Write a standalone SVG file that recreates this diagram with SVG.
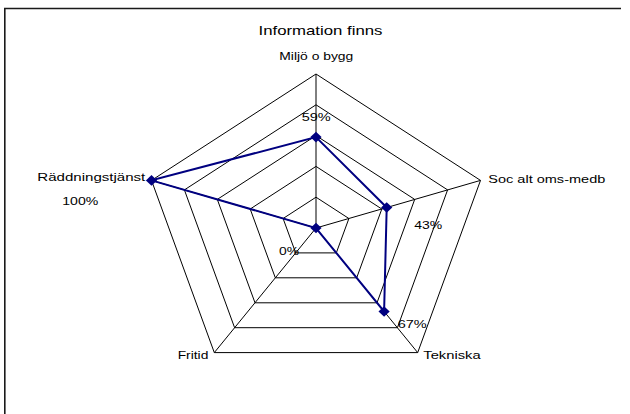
<svg xmlns="http://www.w3.org/2000/svg" width="630" height="414" viewBox="0 0 630 414">
<style>
.grid{fill:none;stroke:#000;stroke-width:1}
.axis{stroke:#000;stroke-width:1}
.series{fill:none;stroke:#000080;stroke-width:2;stroke-linejoin:miter}
.mk{fill:#000080}
.lbl{font-family:"Liberation Sans",Arial,sans-serif;font-size:11px;fill:#000}
.ttl{font-family:"Liberation Sans",Arial,sans-serif;font-size:13px;fill:#000}
.frame{fill:none;stroke:#1a1a1a;stroke-width:1.6}
</style>
<defs>
<path id="dm" d="M0,-5.3 L5.6,0 L0,5.3 L-5.6,0 Z"/>
</defs>
<rect width="630" height="414" fill="#fff"/>
<path class="frame" d="M4.8,414 V8.5 H621"/>
<g id="grid">
<polygon class="grid" points="316,74 480.5,180.4 417.7,352.6 214.3,352.6 151.5,180.4"/>
<polygon class="grid" points="316,104.8 447.6,189.9 397.4,327.7 234.6,327.7 184.4,189.9"/>
<polygon class="grid" points="316,135.6 414.7,199.4 377,302.8 255,302.8 217.3,199.4"/>
<polygon class="grid" points="316,166.4 381.8,209 356.7,277.8 275.3,277.8 250.2,209"/>
<polygon class="grid" points="316,197.2 348.9,218.5 336.3,252.9 295.7,252.9 283.1,218.5"/>
<line class="axis" x1="316" y1="228" x2="316" y2="74"/>
<line class="axis" x1="316" y1="228" x2="480.5" y2="180.4"/>
<line class="axis" x1="316" y1="228" x2="417.7" y2="352.6"/>
<line class="axis" x1="316" y1="228" x2="214.3" y2="352.6"/>
<line class="axis" x1="316" y1="228" x2="151.5" y2="180.4"/>
</g>
<g id="connectors">
<polygon class="series" points="316,137.1 386.7,207.5 384.1,311.5 316,228 151.5,180.4"/>
</g>
<g id="node-miljo">
<use href="#dm" class="mk" x="316" y="137.1"/>
<text class="lbl" x="279.3" y="60" textLength="74" lengthAdjust="spacingAndGlyphs">Miljö o bygg</text>
<text class="lbl" x="301.7" y="121" textLength="29" lengthAdjust="spacingAndGlyphs">59%</text>
</g>
<g id="node-soc">
<use href="#dm" class="mk" x="386.7" y="207.5"/>
<text class="lbl" x="488.3" y="183.3" textLength="117" lengthAdjust="spacingAndGlyphs">Soc alt oms-medb</text>
<text class="lbl" x="414.3" y="229.3" textLength="28" lengthAdjust="spacingAndGlyphs">43%</text>
</g>
<g id="node-tekniska">
<use href="#dm" class="mk" x="384.1" y="311.5"/>
<text class="lbl" x="423.3" y="359.3" textLength="57.3" lengthAdjust="spacingAndGlyphs">Tekniska</text>
<text class="lbl" x="397.7" y="328.3" textLength="29" lengthAdjust="spacingAndGlyphs">67%</text>
</g>
<g id="node-fritid">
<use href="#dm" class="mk" x="316" y="228"/>
<text class="lbl" x="177.7" y="359.3" textLength="30.7" lengthAdjust="spacingAndGlyphs">Fritid</text>
<text class="lbl" x="279" y="255" textLength="20" lengthAdjust="spacingAndGlyphs">0%</text>
</g>
<g id="node-raddning">
<use href="#dm" class="mk" x="151.5" y="180.4"/>
<text class="lbl" x="37.3" y="180.7" textLength="108" lengthAdjust="spacingAndGlyphs">Räddningstjänst</text>
<text class="lbl" x="62.3" y="205.3" textLength="36" lengthAdjust="spacingAndGlyphs">100%</text>
</g>
<g id="title">
<text class="ttl" x="258.5" y="35" textLength="124" lengthAdjust="spacingAndGlyphs">Information finns</text>
</g>
</svg>
